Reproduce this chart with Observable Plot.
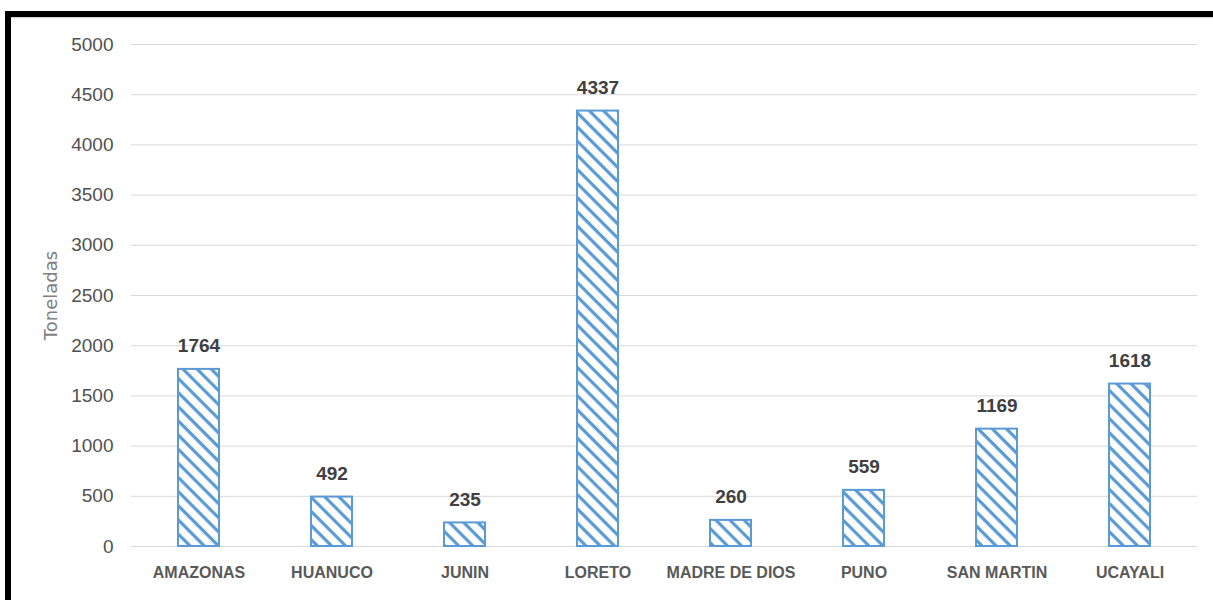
<!DOCTYPE html>
<html>
<head>
<meta charset="utf-8">
<script src="https://cdn.jsdelivr.net/npm/d3@7"></script>
<script src="https://cdn.jsdelivr.net/npm/@observablehq/plot@0.6"></script>
<style>
  html, body { margin: 0; padding: 0; background: #fff; }
  #wrap { position: relative; width: 1213px; height: 600px; overflow: hidden; }
  #frame {
    position: absolute; left: 5px; top: 11px; right: 0; bottom: 0;
    border-top: 6px solid #000; border-left: 6px solid #000;
    box-shadow: inset 0 2px 1px -1px #d0d0d0;
    pointer-events: none;
  }
</style>
</head>
<body>
<div id="wrap"><div id="frame"></div></div>
<script>
// Producción por región (toneladas)
const regiones = ["AMAZONAS", "HUANUCO", "JUNIN", "LORETO", "MADRE DE DIOS", "PUNO", "SAN MARTIN", "UCAYALI"];
const toneladas = [1764, 492, 235, 4337, 260, 559, 1169, 1618];
const yTicks = [0, 500, 1000, 1500, 2000, 2500, 3000, 3500, 4000, 4500, 5000];
const yTitle = "Toneladas";

const data = regiones.map((r, i) => ({region: r, valor: toneladas[i]}));

const blue = "#5B9BD5";

const chart = Plot.plot({
  width: 1213,
  height: 600,
  marginLeft: 131,
  marginRight: 16,
  marginTop: 44,
  marginBottom: 54,
  style: {fontFamily: "'Liberation Sans', Arial, sans-serif", background: "transparent"},
  x: {domain: regiones, paddingInner: 0.69, paddingOuter: 0.345, label: null},
  y: {domain: [0, 5000], label: null},
  marks: [
    Plot.gridY(yTicks, {stroke: "#d9d9d9", strokeOpacity: 1, strokeWidth: 1}),
    Plot.barY(data, {x: "region", y: "valor", fill: "white", stroke: blue, strokeWidth: 2}),
    Plot.text(data, {
      x: "region", y: "valor", text: d => String(d.valor),
      dy: -23, fontSize: 19, fontWeight: "bold", fill: "#404040"
    }),
    Plot.axisY(yTicks, {
      tickSize: 0, tickPadding: 18, fontSize: 19, color: "#505050", label: null,
      tickFormat: d => String(d)
    }),
    Plot.axisX({tickSize: 0, tickPadding: 20, fontSize: 16, fontWeight: "bold", color: "#595959", label: null}),
    Plot.text([yTitle], {
      frameAnchor: "left", textAnchor: "middle", text: d => d, rotate: -90, dx: -80,
      fontSize: 18, fill: "#7f7f7f", fontFamily: "'DejaVu Sans', sans-serif"
    })
  ]
});

// Diagonal hatch fill for the bars
const svg = d3.select(chart);
const defs = svg.insert("defs", ":first-child");
const pat = defs.append("pattern")
  .attr("id", "hatch")
  .attr("patternUnits", "userSpaceOnUse")
  .attr("width", 10)
  .attr("height", 10)
  .attr("patternTransform", "rotate(45)");
pat.append("rect").attr("width", 10).attr("height", 10).attr("fill", "#fff");
pat.append("rect").attr("width", 10).attr("height", 3.2).attr("fill", blue);

svg.selectAll("g[aria-label='bar'] rect").attr("fill", "url(#hatch)");

const wrap = document.getElementById("wrap");
wrap.insertBefore(chart, wrap.firstChild);
</script>
</body>
</html>
